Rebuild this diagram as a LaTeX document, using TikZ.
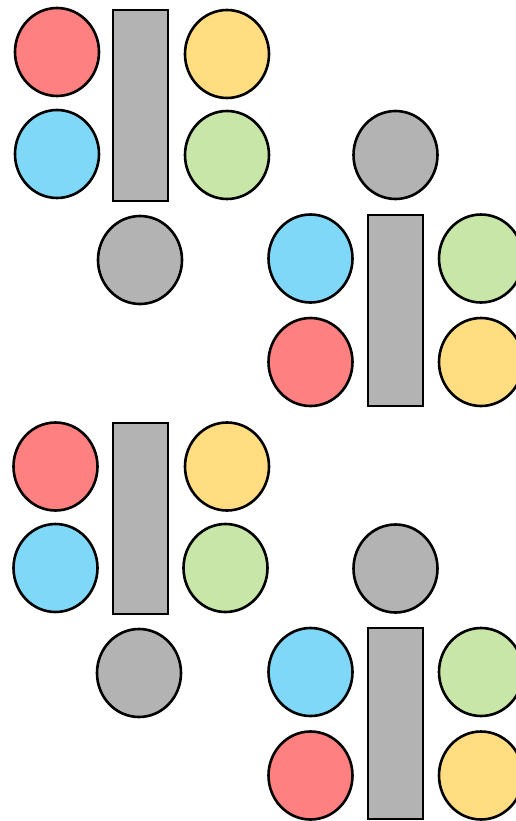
\documentclass[tikz,border=0pt]{standalone}
\usetikzlibrary{shapes.geometric}
\definecolor{cred}{HTML}{FF8080}
\definecolor{cblue}{HTML}{80D8F8}
\definecolor{cyellow}{HTML}{FFDD80}
\definecolor{cgreen}{HTML}{C8E6A8}
\definecolor{cgray}{HTML}{B3B3B3}
\tikzset{
  ball/.style={ellipse,draw=black,line width=2.6pt,minimum width=84pt,minimum height=88pt,inner sep=0pt},
  bar/.style={rectangle,draw=black,line width=2.6pt,fill=cgray,minimum width=55pt,minimum height=191pt,inner sep=0pt},
}
\begin{document}
\begin{tikzpicture}[x=1pt,y=-1pt]
\useasboundingbox (0,0) rectangle (516,821);
\clip (0,0) rectangle (516,821);
% group 1
\node[ball,fill=cred] (r1) at (57,52) {};
\node[ball,fill=cblue] (b1) at (57,154) {};
\node[bar] (s1) at (140.5,105.5) {};
\node[ball,fill=cyellow] (y1) at (227,54) {};
\node[ball,fill=cgreen] (g1) at (227,155) {};
\node[ball,fill=cgray] (k1) at (140,260) {};
% group 2
\node[ball,fill=cgray] (k2) at (395.5,155) {};
\node[ball,fill=cblue] (b2) at (310.5,258.5) {};
\node[bar] (s2) at (395.5,310.5) {};
\node[ball,fill=cgreen] (g2) at (481,258.5) {};
\node[ball,fill=cred] (r2) at (310.5,362) {};
\node[ball,fill=cyellow] (y2) at (481,362) {};
% group 3
\node[ball,fill=cred] (r3) at (55.5,466.5) {};
\node[ball,fill=cblue] (b3) at (55.5,568) {};
\node[bar] (s3) at (140.5,518.5) {};
\node[ball,fill=cyellow] (y3) at (227,466.5) {};
\node[ball,fill=cgreen] (g3) at (225.5,568) {};
\node[ball,fill=cgray] (k3) at (139,673) {};
% group 4
\node[ball,fill=cgray] (k4) at (395.5,568.5) {};
\node[ball,fill=cblue] (b4) at (310.5,672) {};
\node[bar] (s4) at (395.5,723.5) {};
\node[ball,fill=cgreen] (g4) at (481,672) {};
\node[ball,fill=cred] (r4) at (310.5,775.5) {};
\node[ball,fill=cyellow] (y4) at (481,775.5) {};
\end{tikzpicture}
\end{document}
